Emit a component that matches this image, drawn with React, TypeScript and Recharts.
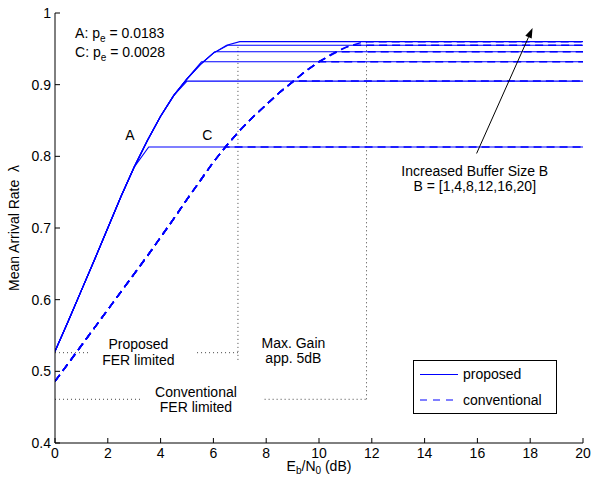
import React from 'react';
import { LineChart, Line, XAxis, YAxis, ReferenceLine, ReferenceDot, Label } from 'recharts';

const FONT = '"Liberation Sans", Arial, Helvetica, sans-serif';
const BLUE = '#0000ff';

// common rising part of the curves (Eb/N0 in dB -> lambda)
const ebnoProposed = [0, 0.5, 1, 1.5, 2, 2.5, 3, 3.5, 4, 4.5, 5, 5.5, 6, 6.5, 7];
const lambdaProposed = [0.528, 0.57, 0.613, 0.656, 0.7, 0.744, 0.785, 0.822, 0.856, 0.885, 0.908, 0.928, 0.944, 0.955, 0.962];

const ebnoConventional = [0, 0.5, 1, 1.5, 2, 2.5, 3, 3.5, 4, 4.5, 5, 5.5, 6, 6.5, 7, 7.5, 8, 8.5, 9, 9.5, 10, 10.5, 11, 11.5, 12];
const lambdaConventional = [
  0.486, 0.511, 0.536, 0.561, 0.586, 0.611, 0.636, 0.661, 0.687, 0.713, 0.74, 0.766, 0.792,
  0.815, 0.836, 0.855, 0.872, 0.889, 0.904, 0.919, 0.932, 0.943, 0.952, 0.958, 0.962,
];

// one saturated level per buffer size, and where each curve flattens out
const bufferSizes = [1, 4, 8, 12, 16, 20];
const lambdaMax = [0.813, 0.905, 0.932, 0.946, 0.955, 0.96];
const kneeProposed = [3.55, 5.0, 5.55, 6.05, 6.55, 7.0];
const kneeConventional = [6.45, 9.05, 10.0, 10.7, 11.2, 11.7];

const xTicks = [0, 2, 4, 6, 8, 10, 12, 14, 16, 18, 20];
const yTicks = [0.4, 0.5, 0.6, 0.7, 0.8, 0.9, 1];

// dotted guide lines
const guideProposedFer = 0.526;
const guideConventionalFer = 0.461;
const guideProposedEbno = 6.93;
const guideConventionalEbno = 11.8;

const buildSeries = (xs: number[], ys: number[], knee: number, level: number) => {
  const pts = xs.map((x, i) => ({ x, y: ys[i] })).filter((p) => p.x <= knee - 0.3);
  pts.push({ x: knee, y: level }, { x: 20, y: level });
  return pts;
};

const proposedSeries = bufferSizes.map((b, i) => ({
  b,
  data: buildSeries(ebnoProposed, lambdaProposed, kneeProposed[i], lambdaMax[i]),
}));
const conventionalSeries = bufferSizes.map((b, i) => ({
  b,
  data: buildSeries(ebnoConventional, lambdaConventional, kneeConventional[i], lambdaMax[i]),
}));

const BottomTick = ({ x, y, payload }: any) => (
  <g>
    <line x1={x} y1={y} x2={x} y2={y - 5} stroke="#000" />
    <text x={x} y={y + 15} textAnchor="middle" fontSize={14} fontFamily={FONT} fill="#000">
      {payload.value}
    </text>
  </g>
);
const LeftTick = ({ x, y, payload }: any) => (
  <g>
    <line x1={x} y1={y} x2={x + 5} y2={y} stroke="#000" />
    <text x={x - 4} y={y + 5} textAnchor="end" fontSize={14} fontFamily={FONT} fill="#000">
      {payload.value}
    </text>
  </g>
);
const TopTick = ({ x, y }: any) => <line x1={x} y1={y} x2={x} y2={y + 5} stroke="#000" />;
const RightTick = ({ x, y }: any) => <line x1={x} y1={y} x2={x - 5} y2={y} stroke="#000" />;

const Arrow = (props: any) => {
  const { x1, y1, x2, y2 } = props;
  const a = Math.atan2(y2 - y1, x2 - x1);
  const L = 10;
  const W = 3.5;
  const bx = x2 - L * Math.cos(a);
  const by = y2 - L * Math.sin(a);
  const px = -Math.sin(a) * W;
  const py = Math.cos(a) * W;
  return (
    <g>
      <line x1={x1} y1={y1} x2={bx} y2={by} stroke="#000" strokeWidth={1} />
      <polygon points={`${x2},${y2} ${bx + px},${by + py} ${bx - px},${by - py}`} fill="#000" />
    </g>
  );
};

type Note = { x: number; y: number; lines: React.ReactNode[]; anchor?: 'start' | 'middle' };

const Sub = ({ s, t }: { s: string; t: string }) => (
  <>
    <tspan fontSize={10} dy={4}>{s}</tspan>
    <tspan dy={-4}>{t}</tspan>
  </>
);

const notes: Note[] = [
  { x: 0.76, y: 0.9647, anchor: 'start', lines: [<>A: p<Sub s="e" t=" = 0.0183" /></>] },
  { x: 0.76, y: 0.938, anchor: 'start', lines: [<>C: p<Sub s="e" t=" = 0.0028" /></>] },
  { x: 2.84, y: 0.823, lines: ['A'] },
  { x: 5.77, y: 0.823, lines: ['C'] },
  { x: 3.16, y: 0.531, lines: ['Proposed', 'FER limited'] },
  { x: 9.03, y: 0.533, lines: ['Max. Gain', 'app. 5dB'] },
  { x: 5.34, y: 0.4646, lines: ['Conventional', 'FER limited'] },
  { x: 15.9, y: 0.7726, lines: ['Increased Buffer Size B', 'B = [1,4,8,12,16,20]'] },
];

const noteShape = (n: Note) => (props: any) => (
  <text x={props.cx} y={props.cy} textAnchor={n.anchor || 'middle'} fontSize={14} fontFamily={FONT} fill="#000">
    {n.lines.map((l, i) => (
      <tspan key={i} x={props.cx} dy={i === 0 ? 0 : 15.5}>
        {l}
      </tspan>
    ))}
  </text>
);

const XTitle = (props: any) => {
  const { x, y, width } = props.viewBox;
  return (
    <text x={x + width / 2} y={y + 28} textAnchor="middle" fontSize={14} fontFamily={FONT} fill="#000">
      E<tspan fontSize={10} dy={3}>b</tspan>
      <tspan dy={-3}>/N</tspan>
      <tspan fontSize={10} dy={3}>0</tspan>
      <tspan dy={-3}> (dB)</tspan>
    </text>
  );
};

const YTitle = (props: any) => {
  const { y, height } = props.viewBox;
  const cx = 19;
  const cy = y + height / 2;
  return (
    <text x={cx} y={cy} transform={`rotate(-90 ${cx} ${cy})`} textAnchor="middle" fontSize={14} fontFamily={FONT} fill="#000">
      {'Mean Arrival Rate \u00A0\u03BB'}
    </text>
  );
};

export default function App() {
  return (
    <div style={{ position: 'absolute', left: 0, top: 0, width: 591, height: 479, background: '#fff', fontFamily: FONT }}>
      <LineChart width={591} height={479} margin={{ top: 13, right: 8, left: 0, bottom: 0 }}>
        <XAxis
          dataKey="x"
          type="number"
          domain={[0, 20]}
          ticks={xTicks}
          height={36}
          tickLine={false}
          tickSize={0}
          tickMargin={0}
          axisLine={{ stroke: '#000' }}
          tick={<BottomTick />}
          allowDataOverflow
        >
          <Label content={<XTitle />} />
        </XAxis>
        <XAxis
          xAxisId="top"
          orientation="top"
          type="number"
          domain={[0, 20]}
          ticks={xTicks}
          height={0}
          tickLine={false}
          tickSize={0}
          tickMargin={0}
          axisLine={{ stroke: '#000' }}
          tick={<TopTick />}
        />
        <YAxis
          type="number"
          domain={[0.4, 1]}
          ticks={yTicks}
          width={55}
          tickLine={false}
          tickSize={0}
          tickMargin={0}
          axisLine={{ stroke: '#000' }}
          tick={<LeftTick />}
          allowDataOverflow
        >
          <Label content={<YTitle />} />
        </YAxis>
        <YAxis
          yAxisId="right"
          orientation="right"
          type="number"
          domain={[0.4, 1]}
          ticks={yTicks}
          width={0}
          tickLine={false}
          tickSize={0}
          tickMargin={0}
          axisLine={{ stroke: '#000' }}
          tick={<RightTick />}
        />

        {/* dotted guides */}
        <ReferenceLine segment={[{ x: 0, y: guideProposedFer }, { x: 1.36, y: guideProposedFer }]} stroke="#444" strokeDasharray="1 3" />
        <ReferenceLine segment={[{ x: 5.38, y: guideProposedFer }, { x: guideProposedEbno, y: guideProposedFer }]} stroke="#444" strokeDasharray="1 3" />
        <ReferenceLine segment={[{ x: 0, y: guideConventionalFer }, { x: 3.27, y: guideConventionalFer }]} stroke="#444" strokeDasharray="1 3" />
        <ReferenceLine segment={[{ x: 7.94, y: guideConventionalFer }, { x: guideConventionalEbno, y: guideConventionalFer }]} stroke="#444" strokeDasharray="1 3" />
        <ReferenceLine segment={[{ x: guideProposedEbno, y: 0.516 }, { x: guideProposedEbno, y: 0.955 }]} stroke="#444" strokeDasharray="1 3" />
        <ReferenceLine segment={[{ x: guideConventionalEbno, y: guideConventionalFer }, { x: guideConventionalEbno, y: 0.96 }]} stroke="#444" strokeDasharray="1 3" />

        {proposedSeries.map((s) => (
          <Line
            key={'p' + s.b}
            data={s.data}
            dataKey="y"
            type="linear"
            stroke={BLUE}
            strokeWidth={1.1}
            dot={false}
            activeDot={false}
            isAnimationActive={false}
          />
        ))}
        {conventionalSeries.map((s) => (
          <Line
            key={'c' + s.b}
            data={s.data}
            dataKey="y"
            type="linear"
            stroke={BLUE}
            strokeWidth={1.5}
            strokeDasharray="8 5"
            dot={false}
            activeDot={false}
            isAnimationActive={false}
          />
        ))}

        <ReferenceLine segment={[{ x: 15.97, y: 0.804 }, { x: 18.09, y: 0.979 }]} shape={<Arrow />} />

        {notes.map((n, i) => (
          <ReferenceDot key={i} x={n.x} y={n.y} r={0} shape={noteShape(n)} />
        ))}
      </LineChart>

      <svg style={{ position: 'absolute', left: 413, top: 360 }} width={145} height={55}>
        <rect x={0.5} y={0.5} width={143} height={53} fill="#fff" stroke="#000" />
        <line x1={7} y1={14.5} x2={45} y2={14.5} stroke={BLUE} strokeWidth={1} />
        <text x={50} y={18.5} fontSize={14} fontFamily={FONT} fill="#000">proposed</text>
        <line x1={7} y1={40} x2={45} y2={40} stroke={BLUE} strokeWidth={1} strokeDasharray="7 6" />
        <text x={50} y={45} fontSize={14} fontFamily={FONT} fill="#000">conventional</text>
      </svg>
    </div>
  );
}
